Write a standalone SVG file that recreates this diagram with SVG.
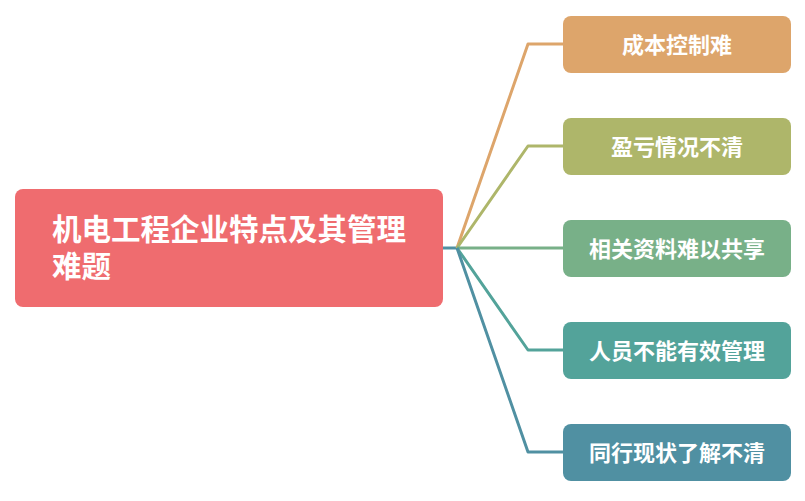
<svg xmlns="http://www.w3.org/2000/svg" width="805" height="501" viewBox="0 0 805 501">
<style>
.t{font-family:"Noto Sans CJK SC","Noto Sans",sans-serif;font-weight:bold;fill:#ffffff}
.sub{font-size:22px;text-anchor:middle}
.main{font-size:29.5px}
.c{fill:none;stroke-width:3;stroke-linejoin:round}
</style>
<rect width="805" height="501" fill="#ffffff"/>
<g id="connectors">
<path class="c" stroke="#5090A2" d="M443,248 H457"/>
<path class="c" stroke="#DDA56B" d="M457,248 L528,44 H563"/>
<path class="c" stroke="#AEB66A" d="M457,248 L528,146 H563"/>
<path class="c" stroke="#78B088" d="M457,248 H563"/>
<path class="c" stroke="#53A39A" d="M457,248 L528,350 H563"/>
<path class="c" stroke="#5090A2" d="M457,248 L528,452 H563"/>
</g>
<g id="root">
<rect x="15" y="189" width="428" height="118" rx="8" fill="#EF6C6F"/>
<text class="t main"><tspan x="52" y="239.5">机电工程企业特点及其管理</tspan><tspan x="52" y="277">难题</tspan></text>
</g>
<g id="n1">
<rect x="563" y="16" width="228" height="57" rx="8" fill="#DDA56B"/>
<text class="t sub" x="677" y="52.5">成本控制难</text>
</g>
<g id="n2">
<rect x="563" y="118" width="228" height="57" rx="8" fill="#AEB66A"/>
<text class="t sub" x="677" y="154.5">盈亏情况不清</text>
</g>
<g id="n3">
<rect x="563" y="220" width="228" height="57" rx="8" fill="#78B088"/>
<text class="t sub" x="677" y="256.5">相关资料难以共享</text>
</g>
<g id="n4">
<rect x="563" y="322" width="228" height="57" rx="8" fill="#53A39A"/>
<text class="t sub" x="677" y="358.5">人员不能有效管理</text>
</g>
<g id="n5">
<rect x="563" y="424" width="228" height="57" rx="8" fill="#5090A2"/>
<text class="t sub" x="677" y="460.5">同行现状了解不清</text>
</g>
</svg>
